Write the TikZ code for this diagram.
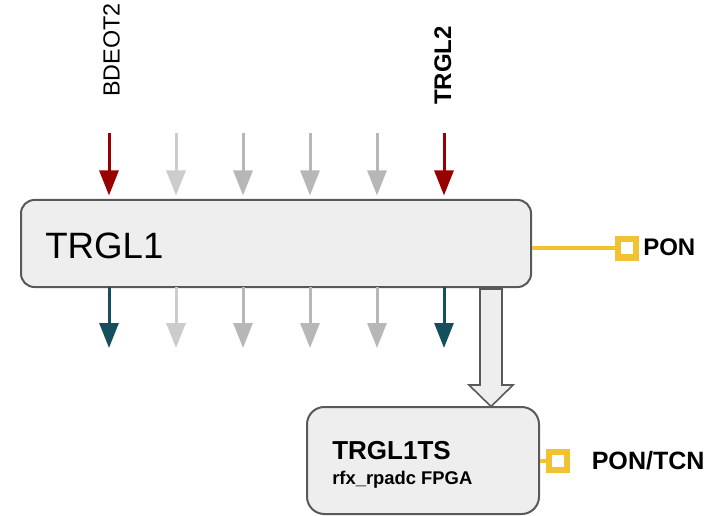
\documentclass[tikz,border=0pt]{standalone}
\usepackage{fontspec}
\setmainfont{Liberation Sans}
\usetikzlibrary{arrows.meta}
\definecolor{dred}{HTML}{990000}
\definecolor{lgray}{HTML}{CCCCCC}
\definecolor{mgray}{HTML}{B7B7B7}
\definecolor{tealc}{HTML}{134F5C}
\definecolor{yel}{HTML}{F1C232}
\definecolor{boxfill}{HTML}{EEEEEE}
\definecolor{boxline}{HTML}{595959}
\begin{document}
\begin{tikzpicture}[x=0.75pt,y=-0.75pt,
  blockbox/.style={draw=boxline, fill=boxfill, line width=1.5pt, inner sep=0pt},
  sig/.style={line width=2.25pt, -{Triangle[length=18.75pt,width=14.25pt]}},
  port/.style={draw=yel, fill=white, line width=4.5pt, minimum size=13.5pt, inner sep=0pt},
  portline/.style={draw=yel, line width=3pt},
  lbl/.style={inner sep=0pt, text=black},
  hollow/.style={draw=boxline, fill=boxfill, line width=1.2pt, line join=miter}]
\useasboundingbox (0,0) rectangle (723,516);

% main box
\node[blockbox, rounded corners=10pt, minimum width=382.5pt, minimum height=65.25pt] (trgl1) at (276,243.5) {};
\node[lbl, anchor=base west] (trgl1t) at (45,258) {\fontsize{27.5pt}{32pt}\selectfont TRGL1};

% second box
\node[blockbox, rounded corners=13pt, minimum width=174pt, minimum height=80.25pt] (ts) at (423,460.5) {};
\node[lbl, anchor=base west] (tst) at (332,459) {\fontsize{19.5pt}{23pt}\selectfont\bfseries TRGL1TS};
\node[lbl, anchor=base west] (tss) at (332,484) {\fontsize{13.8pt}{16pt}\selectfont\bfseries rfx\_rpadc FPGA};

% top labels
\node[lbl, rotate=90, anchor=base west] (bdeot) at (119.5,97) {\fontsize{17.5pt}{20pt}\selectfont BDEOT2};
\node[lbl, rotate=90, anchor=base west] (trgl2) at (451,105) {\fontsize{18pt}{21pt}\selectfont\bfseries TRGL2};

% top arrows
\foreach \x/\c/\n in {109/dred/1,176/lgray/2,243/mgray/3,310/mgray/4,377/mgray/5,444/dred/6}{
  \coordinate (ts\n) at (\x,133);
  \coordinate (te\n) at (\x,195.5);
  \draw[sig, draw=\c, fill=\c] (ts\n) -- (te\n);
}
% bottom arrows
\foreach \x/\c/\n in {109/tealc/1,176/lgray/2,243/mgray/3,310/mgray/4,377/mgray/5,444/tealc/6}{
  \coordinate (bs\n) at (\x,287);
  \coordinate (be\n) at (\x,348);
  \draw[sig, draw=\c, fill=\c] (bs\n) -- (be\n);
}

% hollow arrow
\draw[hollow] (480,289) -- (502,289) -- (502,385) -- (513,385) -- (491,406.5) -- (469,385) -- (480,385) -- cycle;

% PON port
\node[port] (p1) at (627,248.5) {};
\draw[portline] (trgl1.east |- p1) -- (p1.west);
\node[lbl, anchor=base west] (pon) at (643,256) {\fontsize{18pt}{21pt}\selectfont\bfseries PON};

% PON/TCN port
\node[port] (p2) at (558,460.5) {};
\draw[portline] (ts.east |- p2) -- (p2.west);
\node[lbl, anchor=base west] (pontcn) at (591.5,469.5) {\fontsize{18.8pt}{22pt}\selectfont\bfseries PON/TCN};
\end{tikzpicture}
\end{document}
